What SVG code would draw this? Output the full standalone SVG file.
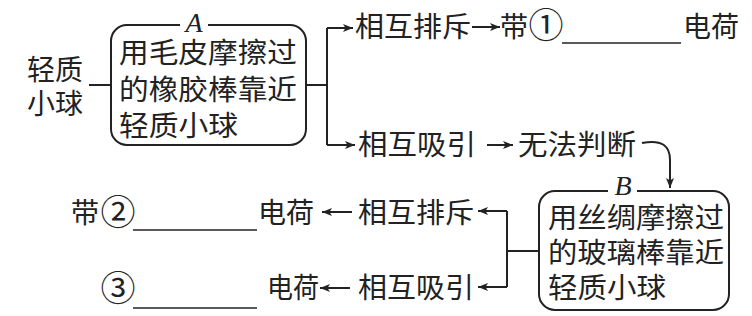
<svg xmlns="http://www.w3.org/2000/svg" width="752" height="316" viewBox="0 0 752 316">
<defs>
<marker id="ah" viewBox="0 0 10 10" refX="10" refY="5" markerWidth="10" markerHeight="10" markerUnits="userSpaceOnUse" orient="auto">
<path d="M0,1 L10,5 L0,9 L2.5,5 Z" fill="#222"/>
</marker>
</defs>
<style>
.t{font-family:"Noto Sans CJK SC","Noto Sans",sans-serif;font-size:28px;fill:#222}
.n{font-family:"Noto Sans CJK SC","Noto Sans",sans-serif;font-size:35px;fill:#222}
.lbl{font-family:"Liberation Serif",serif;font-style:italic;font-size:28px;fill:#222}
.box{fill:#fff;stroke:#222;stroke-width:2}
.c{fill:none;stroke:#222;stroke-width:2}
.a{fill:none;stroke:#222;stroke-width:2;marker-end:url(#ah)}
.u{stroke:#222;stroke-width:1.6}
</style>
<rect width="752" height="316" fill="#fff"/>
<g id="ball">
<text class="t" x="27" y="80" textLength="56" lengthAdjust="spacingAndGlyphs">轻质</text>
<text class="t" x="27" y="114" textLength="56" lengthAdjust="spacingAndGlyphs">小球</text>
</g>
<g id="boxA">
<rect class="box" x="111" y="25" width="195" height="120" rx="16"/>
<rect x="180" y="20" width="28" height="10" fill="#fff"/>
<text class="lbl" x="194" y="32" text-anchor="middle">A</text>
<text class="t" x="119" y="63" textLength="178" lengthAdjust="spacingAndGlyphs">用毛皮摩擦过</text>
<text class="t" x="119" y="100" textLength="178" lengthAdjust="spacingAndGlyphs">的橡胶棒靠近</text>
<text class="t" x="119" y="136" textLength="119" lengthAdjust="spacingAndGlyphs">轻质小球</text>
</g>
<g id="repel1">
<text class="t" x="355" y="37" textLength="116" lengthAdjust="spacingAndGlyphs">相互排斥</text>
</g>
<g id="result1">
<text class="t" x="500" y="37">带</text>
<text class="n" x="546" y="38" text-anchor="middle">①</text>
<line class="u" x1="562" y1="43" x2="681" y2="43"/>
<text class="t" x="683" y="37" textLength="56" lengthAdjust="spacingAndGlyphs">电荷</text>
</g>
<g id="attract1">
<text class="t" x="358" y="155" textLength="118" lengthAdjust="spacingAndGlyphs">相互吸引</text>
</g>
<g id="unknown">
<text class="t" x="518" y="155" textLength="118" lengthAdjust="spacingAndGlyphs">无法判断</text>
</g>
<g id="boxB">
<rect class="box" x="539" y="191" width="190" height="119" rx="16"/>
<rect x="608" y="186" width="29" height="10" fill="#fff"/>
<text class="lbl" x="623" y="195" text-anchor="middle">B</text>
<text class="t" x="548" y="228" textLength="176" lengthAdjust="spacingAndGlyphs">用丝绸摩擦过</text>
<text class="t" x="548" y="263" textLength="176" lengthAdjust="spacingAndGlyphs">的玻璃棒靠近</text>
<text class="t" x="548" y="298" textLength="118" lengthAdjust="spacingAndGlyphs">轻质小球</text>
</g>
<g id="repel2">
<text class="t" x="358" y="223" textLength="116" lengthAdjust="spacingAndGlyphs">相互排斥</text>
</g>
<g id="result2">
<text class="t" x="71" y="223">带</text>
<text class="n" x="118" y="225" text-anchor="middle">②</text>
<line class="u" x1="133" y1="230" x2="257" y2="230"/>
<text class="t" x="258" y="223" textLength="56" lengthAdjust="spacingAndGlyphs">电荷</text>
</g>
<g id="attract2">
<text class="t" x="358" y="298" textLength="116" lengthAdjust="spacingAndGlyphs">相互吸引</text>
</g>
<g id="result3">
<text class="n" x="118" y="301" text-anchor="middle">③</text>
<line class="u" x1="133" y1="308" x2="257" y2="308"/>
<text class="t" x="267" y="298" textLength="52" lengthAdjust="spacingAndGlyphs">电荷</text>
</g>
<g id="connectors">
<line class="c" x1="89" y1="85" x2="111" y2="85"/>
<path class="c" d="M306,85 H327"/>
<path class="c" d="M327,28 V145"/>
<path class="a" d="M327,28 H353"/>
<path class="a" d="M327,145 H355"/>
<path class="a" d="M472,27 H500"/>
<path class="a" d="M487,145 H513"/>
<path class="a" d="M642,143 C662,139 670,146 670,160 V188"/>
<path class="c" d="M539,251 H507"/>
<path class="c" d="M507,211 V287"/>
<path class="a" d="M507,211 H478"/>
<path class="a" d="M507,287 H478"/>
<path class="a" d="M352,212 H322"/>
<path class="a" d="M350,288 H320"/>
</g>
</svg>
